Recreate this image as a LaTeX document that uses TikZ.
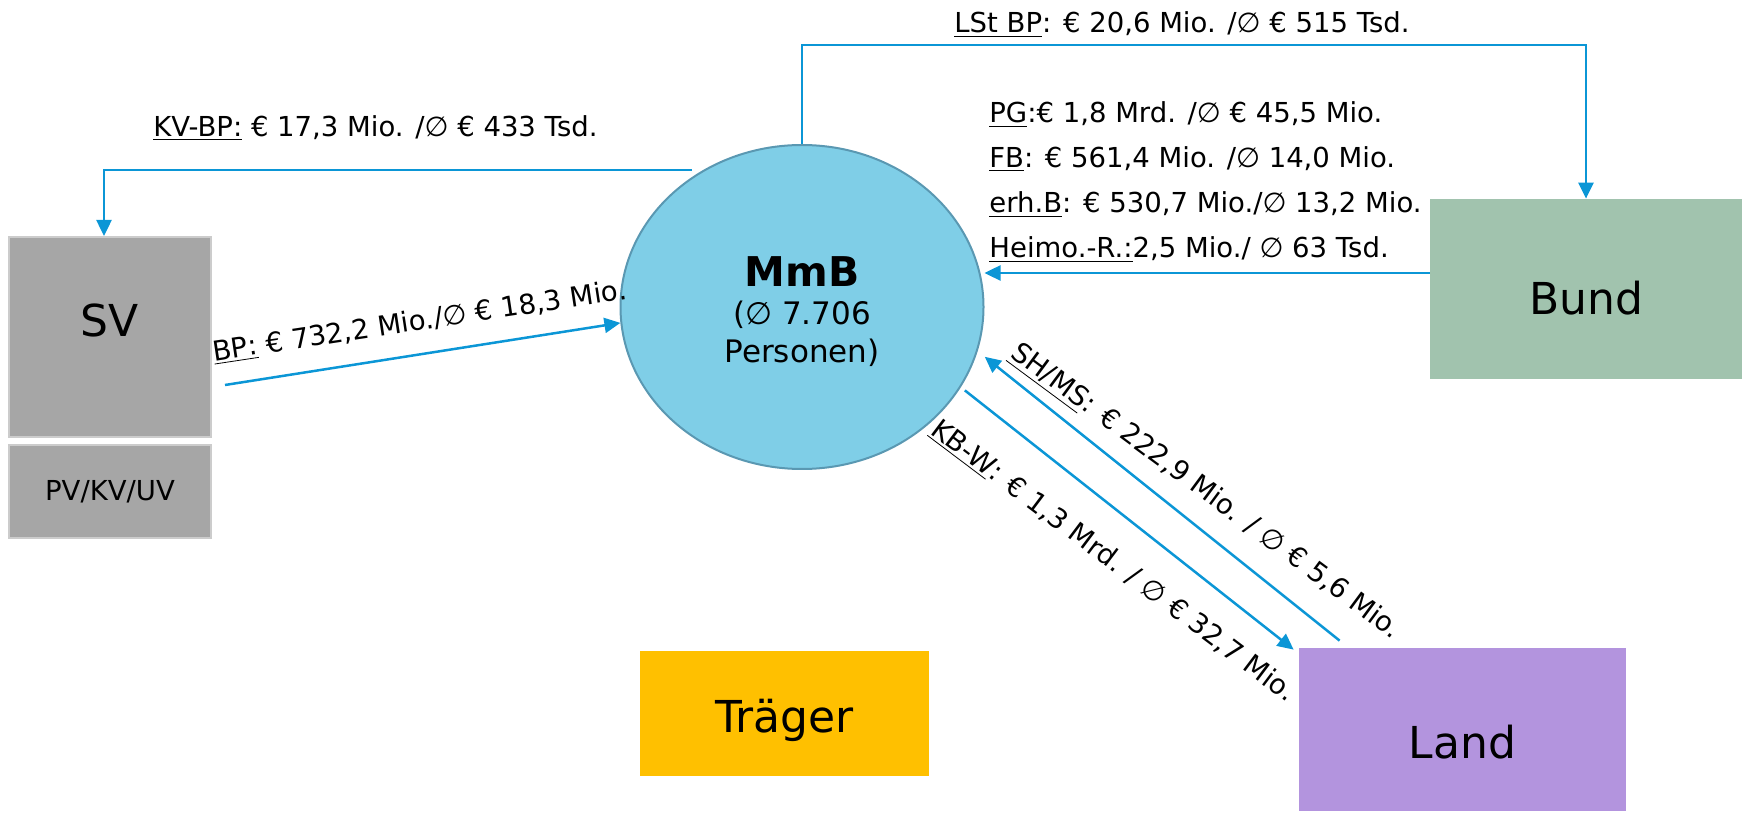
\documentclass[tikz,border=0pt]{standalone}
\usepackage{fontspec}
\setmainfont{DejaVu Sans}
\definecolor{flowblue}{RGB}{11, 150, 214}
\definecolor{mmbfill}{RGB}{127, 206, 231}
\definecolor{mmbline}{RGB}{90, 152, 178}
\definecolor{svgray}{RGB}{166, 166, 166}
\definecolor{bundgreen}{RGB}{161, 195, 174}
\definecolor{landlila}{RGB}{179, 148, 222}
\definecolor{traegergelb}{RGB}{255, 192, 0}
\usetikzlibrary{shapes.geometric, arrows.meta}
\tikzset{
    flow/.style={draw=flowblue, line width=1.25pt,
        -{Triangle[length=8pt, width=7.5pt]}},
    lbl/.style={font=\fontsize{13.75}{16}\selectfont, inner sep=0pt},
    box/.style={rectangle, inner sep=0pt, font=\fontsize{22}{26}\selectfont},
}

\begin{document}
\begin{tikzpicture}[x=0.5pt, y=-0.5pt]
            \useasboundingbox (0, 0) rectangle (1749, 817);
            % Akteure
            \node[box, fill=svgray, draw=black!20, line width=1pt,
                minimum width=101pt, minimum height=100pt, text height=12pt,
                text depth=12pt] (sv) at (110, 337) {SV};
            \node[box, fill=svgray, draw=black!20, line width=1pt,
                minimum width=101pt, minimum height=46.5pt,
                font=\fontsize{13.75}{16}\selectfont] (svsub) at (110, 491.5)
                {PV/KV/UV};
            \node[ellipse, fill=mmbfill, draw=mmbline, line width=1pt,
                minimum width=181.5pt, minimum height=162pt, inner sep=0pt,
                align=center, font=\fontsize{15.5}{19}\selectfont] (mmb)
                at (802, 307) {\rule{0pt}{19.5pt}{\fontsize{20.5}{19}\selectfont
                \bfseries MmB}\\ (∅ 7.706\\ Personen)};
            \node[box, fill=bundgreen, minimum width=156pt, minimum height=90pt,
                text height=26pt, text depth=0pt] (bund) at (1586, 289) {Bund};
            \node[box, fill=landlila, minimum width=163.5pt,
                minimum height=81.5pt, text height=28.5pt, text depth=0pt]
                (land) at (1462.5, 729.5) {Land};
            \node[box, fill=traegergelb, minimum width=144.5pt,
                minimum height=62.5pt, text height=18.5pt, text depth=0pt]
                (traeger) at (784.5, 713.5) {Träger};
            % Zahlungsstroeme
            \draw[flow] ([shift={(-55pt, -13pt)}]mmb.north) -|
                ([xshift=-3pt]sv.north);
            \draw[flow] ([shift={(6.5pt, -24pt)}]sv.east) -- (mmb.185);
            \draw[flow] (mmb.north) -- ++(0, -99) -| (bund.north);
            \draw[flow] ([yshift=8pt]bund.west) -- ([yshift=8pt]bund.west -| mmb.east);
            \draw[flow] ([shift={(20.5pt, 3.5pt)}]land.north west) --
                ([xshift=4.5pt]mmb.344);
            \draw[flow] ([xshift=3pt]mmb.332) --
                ([shift={(-2.5pt, -1pt)}]land.north west);
            % Beschriftungen
            \node[lbl, anchor=base west] (kvlbl) at (153, 137)
                {\underline{KV-BP:} € 17,3 Mio. /∅ € 433 Tsd.};
            \node[lbl, anchor=base west] (lstlbl) at (954, 33)
                {\underline{LSt BP}: € 20,6 Mio. /∅ € 515 Tsd.};
            \foreach \i/\txt in {1/{\underline{PG}:€ 1,8 Mrd. /∅ € 45,5 Mio.},
                2/{\underline{FB}: € 561,4 Mio. /∅ 14,0 Mio.},
                3/{\underline{erh.B}: € 530,7 Mio./∅ 13,2 Mio.},
                4/{\underline{Heimo.-R.:}2,5 Mio./ ∅ 63 Tsd.}} {
                \node[lbl, anchor=base west] (bundlbl\i) at (989, {78+45*\i})
                    {\txt};
            }
            \node[lbl, anchor=base, rotate=8.6] (bplbl) at (421, 330)
                {\underline{BP:} € 732,2 Mio./∅ € 18,3 Mio.};
            \node[lbl, anchor=base, rotate=-36.5] (shlbl) at (1201, 498)
                {\underline{SH/MS}: € 222,9 Mio. / ∅ € 5,6 Mio.};
            \node[lbl, anchor=base, rotate=-37] (kblbl) at (1108, 568)
                {\underline{KB-W}: € 1,3 Mrd. / ∅ € 32,7 Mio.};
        \end{tikzpicture}
\end{document}
